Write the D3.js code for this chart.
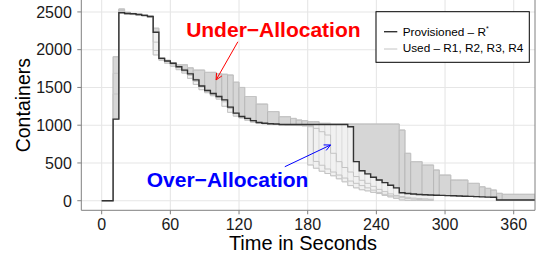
<!DOCTYPE html>
<html>
<head>
<meta charset="utf-8">
<script src="https://cdn.jsdelivr.net/npm/d3@7"></script>
<style>
    html, body { margin: 0; padding: 0; background: #ffffff; }
    svg { display: block; font-family: "Liberation Sans", Arial, Helvetica, sans-serif; }
</style>
</head>
<body>
<svg id="chart" width="536" height="258"></svg>
<script>
// Step times (seconds), one value per 5 s interval
const times = [
    0, 5, 10, 15, 20, 25, 30, 35, 40, 45,
    50, 55, 60, 65, 70, 75, 80, 85, 90, 95,
    100, 105, 110, 115, 120, 125, 130, 135, 140, 145,
    150, 155, 160, 165, 170, 175, 180, 185, 190, 195,
    200, 205, 210, 215, 220, 225, 230, 235, 240, 245,
    250, 255, 260, 265, 270, 275, 280, 285, 290, 295,
    300, 305, 310, 315, 320, 325, 330, 335, 340, 345,
    350, 355, 360, 365, 370, 375
];

// Provisioned – R*
const provisioned = [
    0, 0, 1080, 2490, 2480, 2475, 2465, 2455, 2440, 2230,
    1885, 1850, 1820, 1775, 1730, 1680, 1600, 1520, 1460, 1420,
    1380, 1335, 1240, 1160, 1115, 1090, 1060, 1035, 1025, 1020,
    1015, 1010, 1010, 1010, 1010, 1010, 1010, 1010, 1010, 1010,
    1010, 1010, 1010, 980, 517, 397, 355, 310, 275, 240,
    205, 170, 106, 95, 88, 82, 78, 75, 72, 70,
    68, 66, 63, 60, 57, 54, 51, 48, 45, 10,
    10, 10, 10, 10, 10, 10
];

// Used – R1 (runs until the end)
const usedR1 = [
    0, 0, 1907, 2540, 2490, 2480, 2470, 2460, 2445, 2285,
    1890, 1855, 1825, 1800, 1800, 1760, 1730, 1730, 1700, 1700,
    1680, 1675, 1665, 1570, 1500, 1380, 1380, 1280, 1280, 1180,
    1180, 1113, 1113, 1090, 1069, 1060, 1046, 1046, 1025, 1025,
    1016, 1016, 1016, 1016, 1016, 1016, 1016, 1016, 1016, 1016,
    1016, 1016, 936, 628, 517, 517, 473, 473, 407, 340,
    340, 274, 274, 274, 230, 230, 185, 164, 142, 98,
    85, 85, 85, 85, 85, 85
];

// Used – R2, R3, R4 (finish around 290 s)
const usedR2 = [
    0, 0, 1413, 2500, 2470, 2465, 2455, 2445, 2430, 1930,
    1860, 1820, 1780, 1735, 1690, 1620, 1540, 1470, 1430, 1390,
    1345, 1250, 1170, 1120, 1095, 1065, 1040, 1028, 1020, 1015,
    1010, 1005, 1000, 1000, 995, 990, 473, 430, 390, 360,
    330, 290, 250, 200, 170, 145, 130, 110, 95, 70,
    50, 30, 10, 5, 5, 5, 5, 5
];
const usedR3 = [
    0, 0, 1687, 2520, 2485, 2470, 2460, 2450, 2435, 2100,
    1875, 1840, 1800, 1760, 1715, 1660, 1580, 1505, 1450, 1405,
    1365, 1310, 1220, 1150, 1105, 1080, 1050, 1030, 1020, 1015,
    1010, 1008, 1005, 1005, 1000, 1000, 980, 958, 914, 870,
    628, 517, 440, 380, 320, 270, 230, 190, 150, 120,
    90, 70, 55, 45, 35, 30, 25, 20
];
const usedR4 = [
    0, 0, 1078, 2530, 2495, 2478, 2468, 2458, 2442, 1990,
    1895, 1860, 1815, 1770, 1740, 1690, 1610, 1530, 1465, 1420,
    1380, 1340, 1245, 1165, 1112, 1088, 1058, 1035, 1022, 1018,
    1012, 1008, 1005, 1002, 1000, 998, 995, 520, 470, 420,
    380, 340, 300, 260, 230, 200, 170, 140, 110, 85,
    65, 50, 40, 30, 22, 15, 10, 8
];

const xTicks = [0, 60, 120, 180, 240, 300, 360];
const yTicks = [0, 500, 1000, 1500, 2000, 2500];

// =========================================
// LAYOUT
// =========================================

const PANEL = { left: 81.3, right: 535, top: 0, bottom: 210.3 };
const X_MAX = 378.6;

const svg = d3.select('#chart');

const x = d3.scaleLinear().domain([-17.8, X_MAX]).range([PANEL.left, PANEL.right]);
const y = d3.scaleLinear().domain([-127, 2658]).range([PANEL.bottom, PANEL.top]);

svg.append('defs').append('clipPath')
    .attr('id', 'panel-clip')
    .append('rect')
    .attr('x', PANEL.left)
    .attr('y', PANEL.top)
    .attr('width', PANEL.right - PANEL.left)
    .attr('height', PANEL.bottom - PANEL.top);

// Grid
const gridG = svg.append('g').attr('class', 'grid');
xTicks.forEach(t => {
    gridG.append('line')
        .attr('x1', x(t)).attr('x2', x(t))
        .attr('y1', PANEL.top).attr('y2', PANEL.bottom)
        .attr('stroke', '#e6e6e6').attr('stroke-width', 1.1);
});
yTicks.forEach(t => {
    gridG.append('line')
        .attr('x1', PANEL.left).attr('x2', PANEL.right)
        .attr('y1', y(t)).attr('y2', y(t))
        .attr('stroke', '#e6e6e6').attr('stroke-width', 1.1);
});

const plotG = svg.append('g').attr('clip-path', 'url(#panel-clip)');

// =========================================
// ALLOCATION BANDS
// one block per step of the outer used run, inner edge follows R*
// =========================================

const usedRuns = [usedR1, usedR2, usedR3, usedR4];

function bandGroups(kind) {
    const groups = [];
    let cur = null;
    times.forEach((t0, i) => {
        const t1 = i < times.length - 1 ? times[i + 1] : X_MAX;
        const vals = usedRuns.filter(r => i < r.length).map(r => r[i]);
        const p = provisioned[i];
        const outer = kind === 'under' ? d3.max(vals) : d3.min(vals);
        const has = kind === 'under' ? outer > p : outer < p;
        if (!has) { cur = null; return; }
        if (!cur || cur.outer !== outer) {
            cur = { outer, segs: [] };
            groups.push(cur);
        }
        cur.segs.push({ t0, t1, inner: p });
    });
    return groups;
}

function bandPath(g) {
    const segs = g.segs;
    let d = `M${x(segs[0].t0)},${y(g.outer)}H${x(segs[segs.length - 1].t1)}`;
    for (let k = segs.length - 1; k >= 0; k--) {
        d += `V${y(segs[k].inner)}H${x(segs[k].t0)}`;
    }
    return d + 'Z';
}

function drawBands(kind, fill, stroke) {
    plotG.append('g').selectAll('path')
        .data(bandGroups(kind))
        .enter().append('path')
        .attr('d', bandPath)
        .attr('fill', fill)
        .attr('stroke', stroke)
        .attr('stroke-width', 0.6);
}

drawBands('over', '#f1f1f1', '#d4d4d4');
drawBands('under', '#d6d6d6', '#a9a9a9');

// =========================================
// STEP LINES
// =========================================

const stepLine = d3.line()
    .x(d => x(d[0]))
    .y(d => y(d[1]))
    .curve(d3.curveStepAfter);

function stepPoints(values, end) {
    const pts = values.map((v, i) => [times[i], v]);
    pts.push([end, values[values.length - 1]]);
    return pts;
}

usedRuns.forEach(run => {
    const end = run.length < times.length ? times[run.length] : X_MAX;
    plotG.append('path')
        .attr('d', stepLine(stepPoints(run, end)))
        .attr('fill', 'none')
        .attr('stroke', '#c4c4c4')
        .attr('stroke-width', 1);
});

plotG.append('path')
    .attr('d', stepLine(stepPoints(provisioned, X_MAX)))
    .attr('fill', 'none')
    .attr('stroke', '#333333')
    .attr('stroke-width', 1.4);

// =========================================
// ANNOTATIONS
// =========================================

function arrow(from, to, color) {
    const x1 = x(from[0]), y1 = y(from[1]);
    const x2 = x(to[0]), y2 = y(to[1]);
    const ang = Math.atan2(y2 - y1, x2 - x1);
    const len = 7;
    const g = plotG.append('g')
        .attr('stroke', color)
        .attr('stroke-width', 1)
        .attr('fill', 'none');
    g.append('line').attr('x1', x1).attr('y1', y1).attr('x2', x2).attr('y2', y2);
    g.append('path')
        .attr('d', `M${x2 - len * Math.cos(ang - 0.45)},${y2 - len * Math.sin(ang - 0.45)}` +
            `L${x2},${y2}` +
            `L${x2 - len * Math.cos(ang + 0.45)},${y2 - len * Math.sin(ang + 0.45)}`);
}

arrow([119, 2105], [100, 1600], '#ff0000');
arrow([160, 450], [200, 738], '#0000ff');

svg.append('text')
    .attr('x', x(150)).attr('y', y(2172))
    .attr('text-anchor', 'middle')
    .attr('font-size', 21)
    .attr('font-weight', 'bold')
    .attr('fill', '#ff0000')
    .text('Under\u2212Allocation');

svg.append('text')
    .attr('x', x(110)).attr('y', y(178))
    .attr('text-anchor', 'middle')
    .attr('font-size', 21)
    .attr('font-weight', 'bold')
    .attr('fill', '#0000ff')
    .text('Over\u2212Allocation');

// =========================================
// PANEL BORDER + AXES
// =========================================

svg.append('path')
    .attr('d', `M${PANEL.right},${PANEL.top - 2}V${PANEL.bottom}H${PANEL.left}V${PANEL.top - 2}`)
    .attr('fill', 'none')
    .attr('stroke', '#808080')
    .attr('stroke-width', 1);

const axisG = svg.append('g').attr('fill', '#1a1a1a').attr('font-size', 16);

yTicks.forEach(t => {
    axisG.append('line')
        .attr('x1', PANEL.left - 4).attr('x2', PANEL.left)
        .attr('y1', y(t)).attr('y2', y(t))
        .attr('stroke', '#808080');
    axisG.append('text')
        .attr('x', PANEL.left - 9.5)
        .attr('y', y(t) + 5.8)
        .attr('text-anchor', 'end')
        .text(t);
});

xTicks.forEach(t => {
    axisG.append('line')
        .attr('x1', x(t)).attr('x2', x(t))
        .attr('y1', PANEL.bottom).attr('y2', PANEL.bottom + 4)
        .attr('stroke', '#808080');
    axisG.append('text')
        .attr('x', x(t))
        .attr('y', 229.5)
        .attr('text-anchor', 'middle')
        .text(t);
});

svg.append('text')
    .attr('x', 303)
    .attr('y', 250)
    .attr('text-anchor', 'middle')
    .attr('font-size', 20)
    .attr('fill', '#000')
    .text('Time in Seconds');

svg.append('text')
    .attr('transform', `translate(29.5, ${(PANEL.top + PANEL.bottom) / 2}) rotate(-90)`)
    .attr('text-anchor', 'middle')
    .attr('font-size', 19.5)
    .attr('fill', '#000')
    .text('Containers');

// =========================================
// LEGEND
// =========================================

const legendG = svg.append('g').attr('transform', 'translate(376, 11.7)');

legendG.append('rect')
    .attr('width', 153.3)
    .attr('height', 50.6)
    .attr('fill', '#ffffff')
    .attr('stroke', '#000000')
    .attr('stroke-width', 1);

legendG.append('line')
    .attr('x1', 8).attr('x2', 21.3).attr('y1', 20).attr('y2', 20)
    .attr('stroke', '#333333').attr('stroke-width', 1.4);
legendG.append('line')
    .attr('x1', 8).attr('x2', 21.3).attr('y1', 37.3).attr('y2', 37.3)
    .attr('stroke', '#c4c4c4').attr('stroke-width', 1);

const provText = legendG.append('text')
    .attr('x', 26.7).attr('y', 24.3)
    .attr('font-size', 11.8)
    .attr('fill', '#000');
provText.append('tspan').text('Provisioned \u2013 R');
provText.append('tspan')
    .attr('font-size', 7)
    .attr('dy', -5)
    .text('*');

legendG.append('text')
    .attr('x', 26.7).attr('y', 40)
    .attr('font-size', 11.8)
    .attr('fill', '#000')
    .text('Used \u2013 R1, R2, R3, R4');
</script>
</body>
</html>
